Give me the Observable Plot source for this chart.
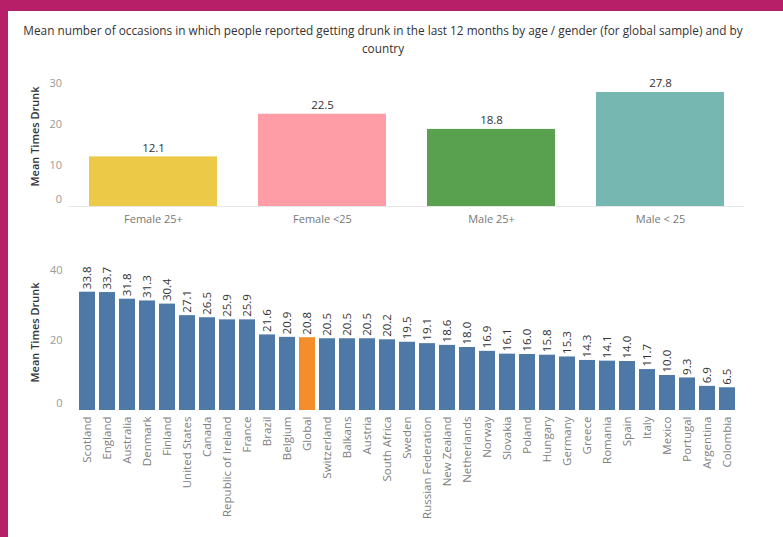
<!DOCTYPE html>
<html>
<head>
<meta charset="utf-8">
<script src="https://cdn.jsdelivr.net/npm/d3@7"></script>
<script src="https://cdn.jsdelivr.net/npm/@observablehq/plot@0.6"></script>
<style>
  html, body { margin: 0; padding: 0; background: #fff; }
  #frame { position: relative; width: 783px; height: 537px; overflow: hidden; background: #fff; font-family: "Open Sans", Lato, sans-serif; }
  .bar-top { position: absolute; left: 0; top: 0; width: 783px; height: 11px; background: #b81f69; }
  .bar-left { position: absolute; left: 0; top: 0; width: 8px; height: 537px; background: #b81f69; }
  #title { position: absolute; left: 8px; top: 21px; width: 750px; text-align: center; font-size: 11.8px; line-height: 18px; color: #333; }
  #top, #bottom { position: absolute; left: 0; }
  #top { top: 62px; }
  #bottom { top: 255px; }
</style>
</head>
<body>
<div id="frame">
  <div class="bar-top"></div>
  <div class="bar-left"></div>
  <div id="title">Mean number of occasions in which people reported getting drunk in the last 12 months by age / gender (for global sample) and by<br>country</div>
  <div id="top"></div>
  <div id="bottom"></div>
</div>
<script>
const ageGroups = ["Female 25+", "Female <25", "Male 25+", "Male < 25"];
const ageValues = [12.1, 22.5, 18.8, 27.8];
const ageColors = ["#edc948", "#ff9da7", "#59a14f", "#76b7b2"];

const countries = ["Scotland", "England", "Australia", "Denmark", "Finland", "United States", "Canada",
  "Republic of Ireland", "France", "Brazil", "Belgium", "Global", "Switzerland", "Balkans", "Austria",
  "South Africa", "Sweden", "Russian Federation", "New Zealand", "Netherlands", "Norway", "Slovakia",
  "Poland", "Hungary", "Germany", "Greece", "Romania", "Spain", "Italy", "Mexico", "Portugal",
  "Argentina", "Colombia"];
const countryValues = [33.8, 33.7, 31.8, 31.3, 30.4, 27.1, 26.5, 25.9, 25.9, 21.6, 20.9, 20.8, 20.5, 20.5, 20.5,
  20.2, 19.5, 19.1, 18.6, 18.0, 16.9, 16.1, 16.0, 15.8, 15.3, 14.3, 14.1, 14.0, 11.7, 10.0, 9.3, 6.9, 6.5];
const highlight = "Global";

const yTitle = "Mean Times Drunk";
const topTicks = [10, 20, 30];
const bottomTicks = [20, 40];

const ageData = ageGroups.map((g, i) => ({group: g, value: ageValues[i]}));
const countryData = countries.map((c, i) => ({country: c, value: countryValues[i]}));

const font = "'Open Sans', Lato, sans-serif";

const topPlot = Plot.plot({
  width: 783, height: 173,
  marginLeft: 68.5, marginRight: 38.5, marginTop: 21, marginBottom: 29,
  style: {background: "transparent", fontFamily: font, overflow: "visible"},
  x: {domain: ageGroups, paddingInner: 0.243, paddingOuter: 0.121, label: null},
  y: {domain: [0, 30], label: null},
  color: {domain: ageGroups, range: ageColors},
  marks: [
    Plot.ruleY([0], {stroke: "#e8e8e8"}),
    Plot.barY(ageData, {x: "group", y: "value", fill: "group"}),
    Plot.text(ageData, {x: "group", y: "value", text: d => d.value.toFixed(1), dy: -9, fontSize: 11.5, fill: "#333"}),
    Plot.axisX({tickSize: 0, tickPadding: 9, fontSize: 11, color: "#777", label: null}),
    Plot.axisY(topTicks, {tickSize: 0, tickPadding: 7, fontSize: 11, color: "#999", label: null}),
    Plot.axisY([0], {tickSize: 0, tickPadding: 7, fontSize: 11, color: "#999", label: null, dy: -7}),
    Plot.text([yTitle], {frameAnchor: "left", textAnchor: "middle", rotate: -90, dx: -33.5, dy: -8.5, fontSize: 11, fontWeight: 600, fill: "#333"})
  ]
});
document.getElementById("top").appendChild(topPlot);

const bottomPlot = Plot.plot({
  width: 783, height: 282,
  marginLeft: 69, marginRight: 38.5, marginTop: 15, marginBottom: 127,
  style: {background: "transparent", fontFamily: font, overflow: "visible"},
  x: {domain: countries, paddingInner: 0.2, paddingOuter: 0.1, label: null},
  y: {domain: [0, 40], label: null},
  marks: [
    Plot.barY(countryData, {x: "country", y: "value", fill: d => d.country === highlight ? "#f28e2b" : "#4e79a7"}),
    Plot.text(countryData, {x: "country", y: "value", text: d => d.value.toFixed(1), rotate: -90, textAnchor: "start", dy: -3, fontSize: 11.5, fill: "#333"}),
    Plot.axisX({tickSize: 0, tickPadding: 6, tickRotate: -90, fontSize: 11.5, color: "#808080", label: null}),
    Plot.axisY(bottomTicks, {tickSize: 0, tickPadding: 7, fontSize: 11, color: "#999", label: null}),
    Plot.axisY([0], {tickSize: 0, tickPadding: 7, fontSize: 11, color: "#999", label: null, dy: -7}),
    Plot.text([yTitle], {frameAnchor: "left", textAnchor: "middle", rotate: -90, dx: -34, dy: -8, fontSize: 11, fontWeight: 600, fill: "#333"})
  ]
});
document.getElementById("bottom").appendChild(bottomPlot);
</script>
</body>
</html>
